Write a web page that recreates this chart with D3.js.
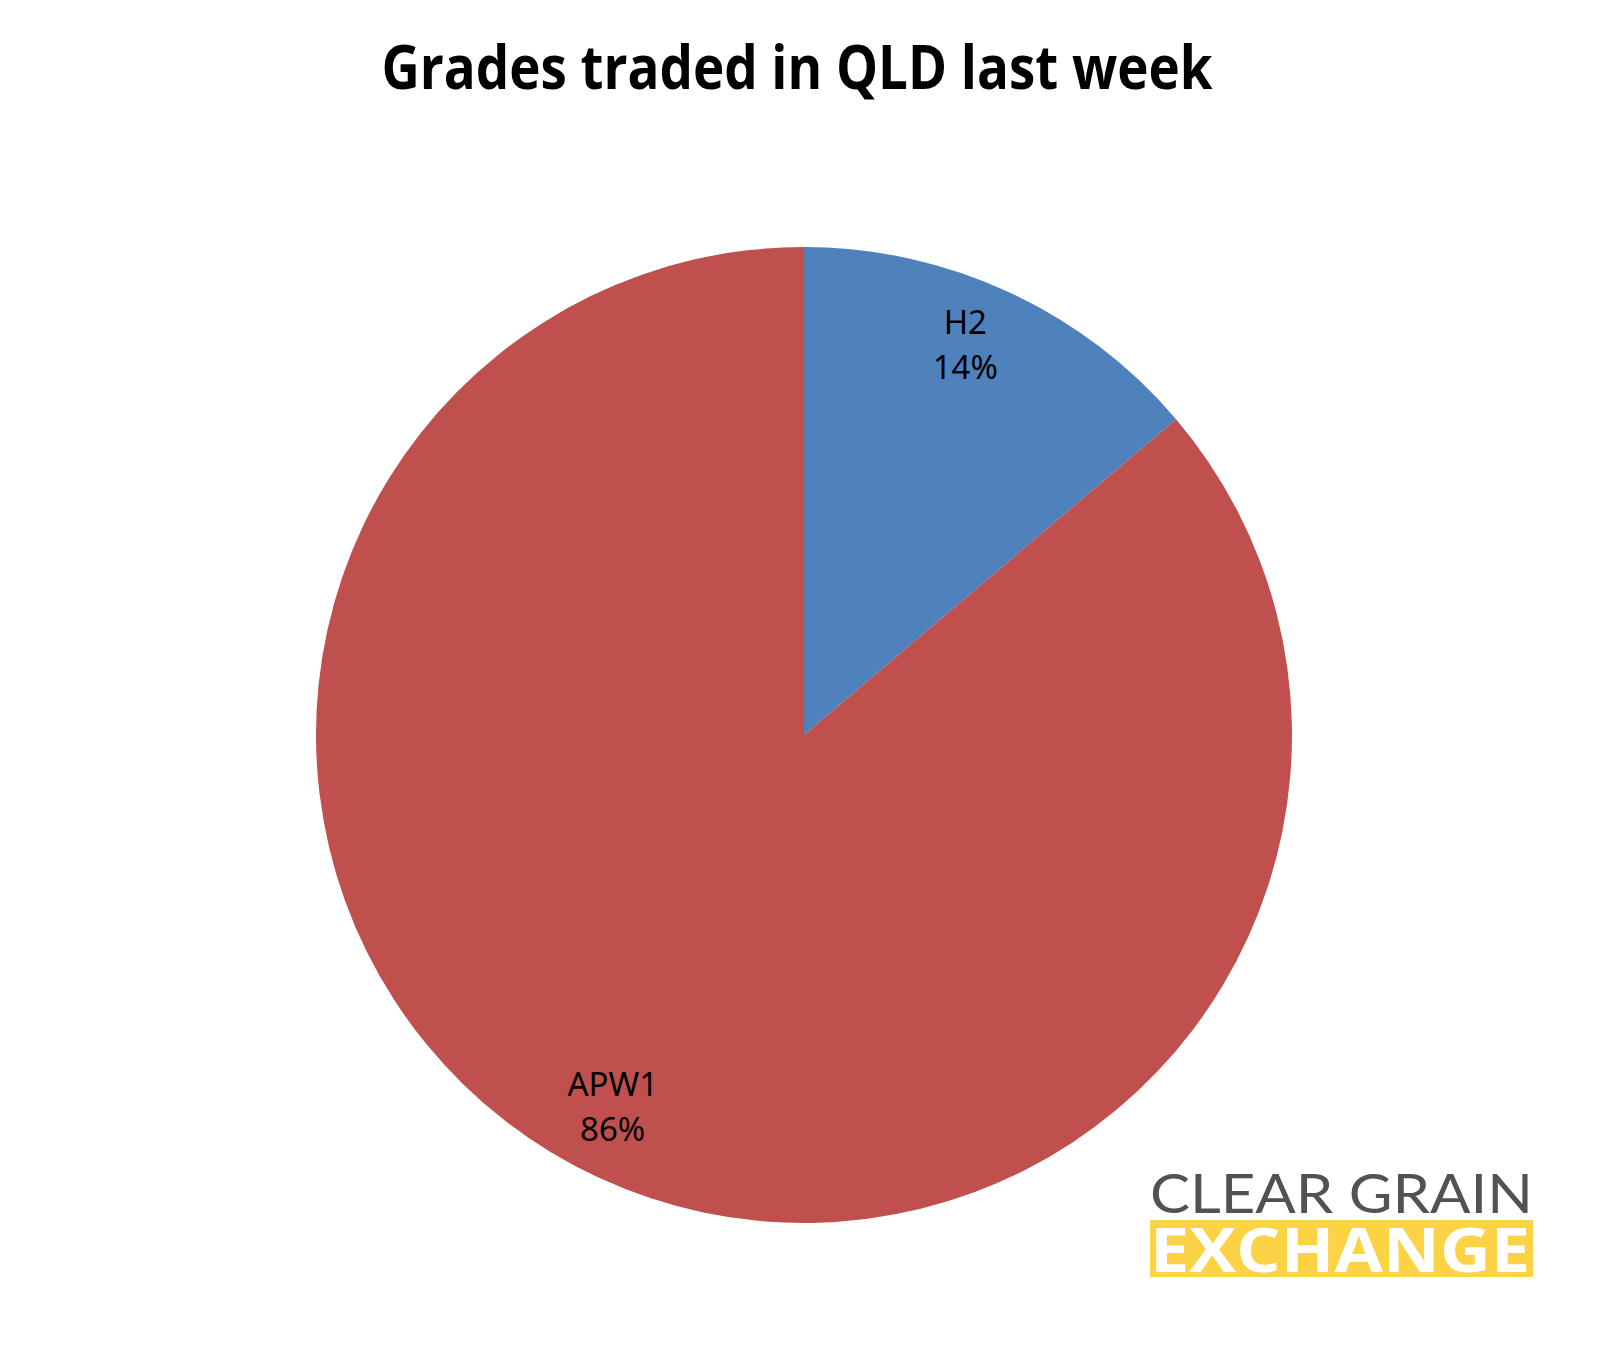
<!DOCTYPE html>
<html>
<head>
<meta charset="utf-8">
<script src="https://cdn.jsdelivr.net/npm/d3@7"></script>
<style>
  html, body { margin: 0; padding: 0; background: #ffffff; }
  svg { display: block; }
</style>
</head>
<body>
<svg id="chart" width="1609" height="1351"></svg>
<script>
// ---- Data ----
const titleText = "Grades traded in QLD last week";
const categories = ["H2", "APW1"];
const values = [13.8, 86.2];
const percentLabels = ["14%", "86%"];
const colors = ["#4F81BD", "#C0504D"];

// ---- Layout ----
const W = 1609, H = 1351;
const cx = 804, cy = 735, R = 488;

const svg = d3.select("#chart");
svg.append("rect").attr("width", W).attr("height", H).attr("fill", "#ffffff");

// Title
svg.append("text")
  .attr("x", 797).attr("y", 89)
  .attr("text-anchor", "middle")
  .attr("font-family", "'Open Sans', 'Noto Sans', sans-serif")
  .attr("font-weight", 700)
  .attr("font-size", 60)
  .attr("textLength", 831)
  .attr("lengthAdjust", "spacingAndGlyphs")
  .attr("fill", "#000000")
  .text(titleText);

// Pie
const data = categories.map((c, i) => ({ name: c, value: values[i], pct: percentLabels[i], color: colors[i] }));
const pie = d3.pie().sort(null).value(d => d.value).startAngle(0).endAngle(2 * Math.PI);
const arcs = pie(data);
const arc = d3.arc().innerRadius(0).outerRadius(R);
const labelArc = d3.arc().innerRadius(R * 0.86).outerRadius(R * 0.86);

const g = svg.append("g").attr("transform", `translate(${cx},${cy})`);
g.selectAll("path.slice")
  .data(arcs)
  .enter().append("path")
  .attr("class", "slice")
  .attr("d", arc)
  .attr("fill", d => d.data.color)
  .attr("stroke", "none");

const labels = g.selectAll("g.lbl")
  .data(arcs)
  .enter().append("g")
  .attr("class", "lbl")
  .attr("transform", d => {
    const [x, y] = labelArc.centroid(d);
    return `translate(${x - 15},${y - 10})`;
  });
labels.append("text")
  .attr("text-anchor", "middle")
  .attr("y", -10)
  .attr("font-family", "'Noto Sans', 'Open Sans', sans-serif")
  .attr("font-size", 33)
  .attr("fill", "#000000")
  .text(d => d.data.name);
labels.append("text")
  .attr("text-anchor", "middle")
  .attr("y", 35)
  .attr("font-family", "'Noto Sans', 'Open Sans', sans-serif")
  .attr("font-size", 33)
  .attr("fill", "#000000")
  .text(d => d.data.pct);

// Logo
const logo = svg.append("g");
logo.append("text")
  .attr("x", 1150).attr("y", 1213)
  .attr("font-family", "Lato, 'Open Sans', sans-serif")
  .attr("font-weight", 400)
  .attr("font-size", 54)
  .attr("textLength", 383)
  .attr("lengthAdjust", "spacingAndGlyphs")
  .attr("fill", "#525252")
  .text("CLEAR GRAIN");
logo.append("rect")
  .attr("x", 1150).attr("y", 1220)
  .attr("width", 383).attr("height", 57)
  .attr("fill", "#FCD344");
logo.append("text")
  .attr("x", 1150).attr("y", 1272)
  .attr("font-family", "'Open Sans', Lato, sans-serif")
  .attr("font-weight", 700)
  .attr("font-size", 60)
  .attr("textLength", 380)
  .attr("lengthAdjust", "spacingAndGlyphs")
  .attr("fill", "#ffffff")
  .text("EXCHANGE");
</script>
</body>
</html>
